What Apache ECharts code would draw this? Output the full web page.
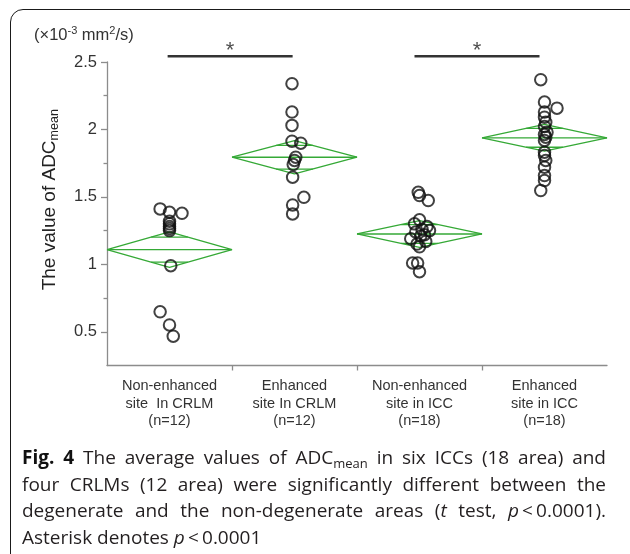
<!DOCTYPE html>
<html>
<head>
<meta charset="utf-8">
<script src="https://cdn.jsdelivr.net/npm/echarts@6/dist/echarts.min.js"></script>
<style>
  html, body { margin: 0; padding: 0; background: #fff; }
  #wrap { position: relative; width: 630px; height: 554px; overflow: hidden; }
  #chart { position: absolute; left: 0; top: 0; width: 630px; height: 554px; }
  #frame {
    position: absolute; left: 10px; top: 9px; width: 640px; height: 560px;
    border: 1.5px solid #1a1a1a; border-radius: 13px; box-sizing: border-box;
    pointer-events: none;
  }
  #caption {
    position: absolute; left: 22px; top: 444px; width: 584px;
    font-family: 'Open Sans', sans-serif; font-size: 19px; line-height: 26.7px;
    color: #231f20;
  }
  #caption div { text-align: justify; text-align-last: justify; }
  #caption div.last { text-align-last: left; }
  #caption sub { font-size: 13px; line-height: 0; vertical-align: -4px; }
  #caption b { color: #111; }
</style>
</head>
<body>
<div id="wrap">
  <div id="chart"></div>
  <div id="frame"></div>
  <div id="caption">
    <div><b>Fig. 4</b> The average values of ADC<sub>mean</sub> in six ICCs (18 area) and</div>
    <div>four CRLMs (12 area) were significantly different between the</div>
    <div>degenerate and the non-degenerate areas (<i>t</i> test, <i>p</i>&thinsp;&lt;&thinsp;0.0001).</div>
    <div class="last">Asterisk denotes <i>p</i>&thinsp;&lt;&thinsp;0.0001</div>
  </div>
</div>
<script>
// groups, left to right
const categories = [
  'Non-enhanced\nsite  In CRLM\n(n=12)',
  'Enhanced\nsite In CRLM\n(n=12)',
  'Non-enhanced\nsite in ICC\n(n=18)',
  'Enhanced\nsite in ICC\n(n=18)'
]

// ADC mean values (x10^-3 mm2/s) per group
const crlmNonEnhanced = [1.411, 1.386, 1.378, 1.32, 1.30, 1.28, 1.265, 1.25, 0.99, 0.648, 0.551, 0.467]
const crlmEnhanced = [2.339, 2.129, 2.03, 1.913, 1.898, 1.794, 1.77, 1.74, 1.646, 1.497, 1.44, 1.374]
const iccNonEnhanced = [1.534, 1.51, 1.473, 1.33, 1.30, 1.28, 1.26, 1.25, 1.24, 1.22, 1.21, 1.19, 1.17, 1.15, 1.13, 1.01, 1.01, 0.945]
const iccEnhanced = [2.369, 2.203, 2.158, 2.129, 2.091, 2.054, 2.022, 1.98, 1.963, 1.943, 1.918, 1.831, 1.807, 1.77, 1.72, 1.658, 1.621, 1.547]

// horizontal jitter of each point, in category units
const crlmNonEnhancedJitter = [-0.075, 0, 0.1, 0, 0, 0, 0, 0, 0.01, -0.075, 0, 0.03]
const crlmEnhancedJitter = [-0.02, -0.02, -0.02, -0.02, 0.05, 0.01, 0, -0.01, -0.015, 0.075, -0.015, -0.015]
const iccNonEnhancedJitter = [-0.01, 0, 0.07, 0, -0.04, 0.06, 0.02, 0.08, -0.03, 0.04, 0.01, -0.07, 0.05, -0.02, 0, -0.055, -0.015, 0]
const iccEnhancedJitter = [-0.03, 0, 0.1, 0, 0, 0.01, 0, 0.02, 0, 0.01, 0, 0, 0, 0.01, 0, 0, 0, -0.03]

// means diamonds: group mean and 95% CI half width
const groupMeans = [1.109, 1.794, 1.225, 1.938]
const groupCiHalf = [0.132, 0.124, 0.099, 0.099]

// significance brackets: [from, to] in group index, height
const sigBrackets = [[-0.015, 0.985], [1.96, 2.96]]
const sigLevel = 2.542
const sigLabel = '*'

const yTickLabels = [0.5, 1, 1.5, 2, 2.5]
const yMinorTicks = [0.75, 1.25, 1.75, 2.25]
const xBoundaryTicks = [0.5, 1.5, 2.5]

const groups = [
  [crlmNonEnhanced, crlmNonEnhancedJitter],
  [crlmEnhanced, crlmEnhancedJitter],
  [iccNonEnhanced, iccNonEnhancedJitter],
  [iccEnhanced, iccEnhancedJitter]
]

const AXIS = '#8c8c8c'
const GREEN = '#35a936'
const FONT = 'Liberation Sans, Arial, sans-serif'

function greenLine(data) {
  return {
    type: 'line', data, symbol: 'none', silent: true, z: 2,
    lineStyle: { color: GREEN, width: 1.3 }
  }
}

const series = []
groupMeans.forEach((m, i) => {
  const ci = groupCiHalf[i]
  const k = 0.5 * (1 - Math.SQRT1_2)
  series.push(greenLine([[i - 0.5, m], [i, m + ci], [i + 0.5, m], [i, m - ci], [i - 0.5, m]]))
  series.push(greenLine([[i - 0.5, m], [i + 0.5, m]]))
  series.push(greenLine([[i - k, m + ci * Math.SQRT1_2], [i + k, m + ci * Math.SQRT1_2]]))
  series.push(greenLine([[i - k, m - ci * Math.SQRT1_2], [i + k, m - ci * Math.SQRT1_2]]))
})

groups.forEach(([vals, jit], i) => {
  series.push({
    type: 'scatter', z: 5, symbol: 'circle', symbolSize: 11.5,
    data: vals.map((v, k) => [i + jit[k], v]),
    itemStyle: { color: 'rgba(0,0,0,0)', borderColor: '#111', borderWidth: 2 }
  })
})

sigBrackets.forEach(([a, b]) => {
  series.push({
    type: 'line', clip: false, symbol: 'none', silent: true, z: 4,
    data: [[a, sigLevel], [b, sigLevel]],
    lineStyle: { color: '#333', width: 2.5 }
  })
  series.push({
    type: 'scatter', clip: false, silent: true, symbolSize: 0, z: 4,
    data: [[(a + b) / 2, sigLevel]],
    label: {
      show: true, position: 'top', distance: -6, formatter: sigLabel,
      fontSize: 22, color: '#222', fontFamily: FONT
    }
  })
})

const chart = echarts.init(document.getElementById('chart'))
chart.setOption({
  animation: false,
  grid: { left: 107, right: 23, top: 62, height: 303.5 },
  xAxis: {
    type: 'value', min: -0.5, max: 3.5,
    axisLine: { show: true, onZero: false, lineStyle: { color: AXIS, width: 1.3 } },
    axisTick: { show: true, customValues: xBoundaryTicks, length: 5, lineStyle: { color: AXIS, width: 1.3 } },
    axisLabel: {
      customValues: [0, 1, 2, 3],
      formatter: v => categories[Math.round(v)],
      fontSize: 14.5, lineHeight: 17.5, color: '#333', margin: 12, fontFamily: FONT
    },
    splitLine: { show: false }
  },
  yAxis: [
    {
      type: 'value', min: 0.25, max: 2.5,
      axisLine: { show: true, onZero: false, lineStyle: { color: AXIS, width: 1.3 } },
      axisTick: { show: true, customValues: yTickLabels, length: 6, lineStyle: { color: AXIS, width: 1.3 } },
      axisLabel: { customValues: yTickLabels, fontSize: 16.5, color: '#333', margin: 10, fontFamily: FONT },
      splitLine: { show: false },
      name: '{a|The value of ADC}{sub|mean}',
      nameLocation: 'middle', nameRotate: 90, nameGap: 46,
      nameTextStyle: {
        padding: [0, 0, 0, 28],
        rich: {
          a: { fontSize: 19, lineHeight: 21, verticalAlign: 'top', padding: [0, 0, 2, 0], color: '#222', fontFamily: FONT },
          sub: { fontSize: 12.5, lineHeight: 12, verticalAlign: 'bottom', color: '#222', fontFamily: FONT }
        }
      }
    },
    {
      type: 'value', min: 0.25, max: 2.5, position: 'left',
      axisLine: { show: false, onZero: false },
      axisTick: { show: true, customValues: yMinorTicks, length: 3.5, lineStyle: { color: AXIS, width: 1.3 } },
      axisLabel: { show: false },
      splitLine: { show: false }
    }
  ],
  graphic: [
    {
      type: 'text', left: 34, top: 24, silent: true,
      style: {
        text: '{m|(×10}{sup|-3}{m| mm}{sup|2}{m|/s)}',
        rich: {
          m: { fontSize: 16.5, lineHeight: 19, padding: [3, 0, 0, 0], verticalAlign: 'bottom', fill: '#333', fontFamily: FONT },
          sup: { fontSize: 11, lineHeight: 11, verticalAlign: 'top', fill: '#333', fontFamily: FONT }
        }
      }
    }
  ],
  series
})
</script>
</body>
</html>
